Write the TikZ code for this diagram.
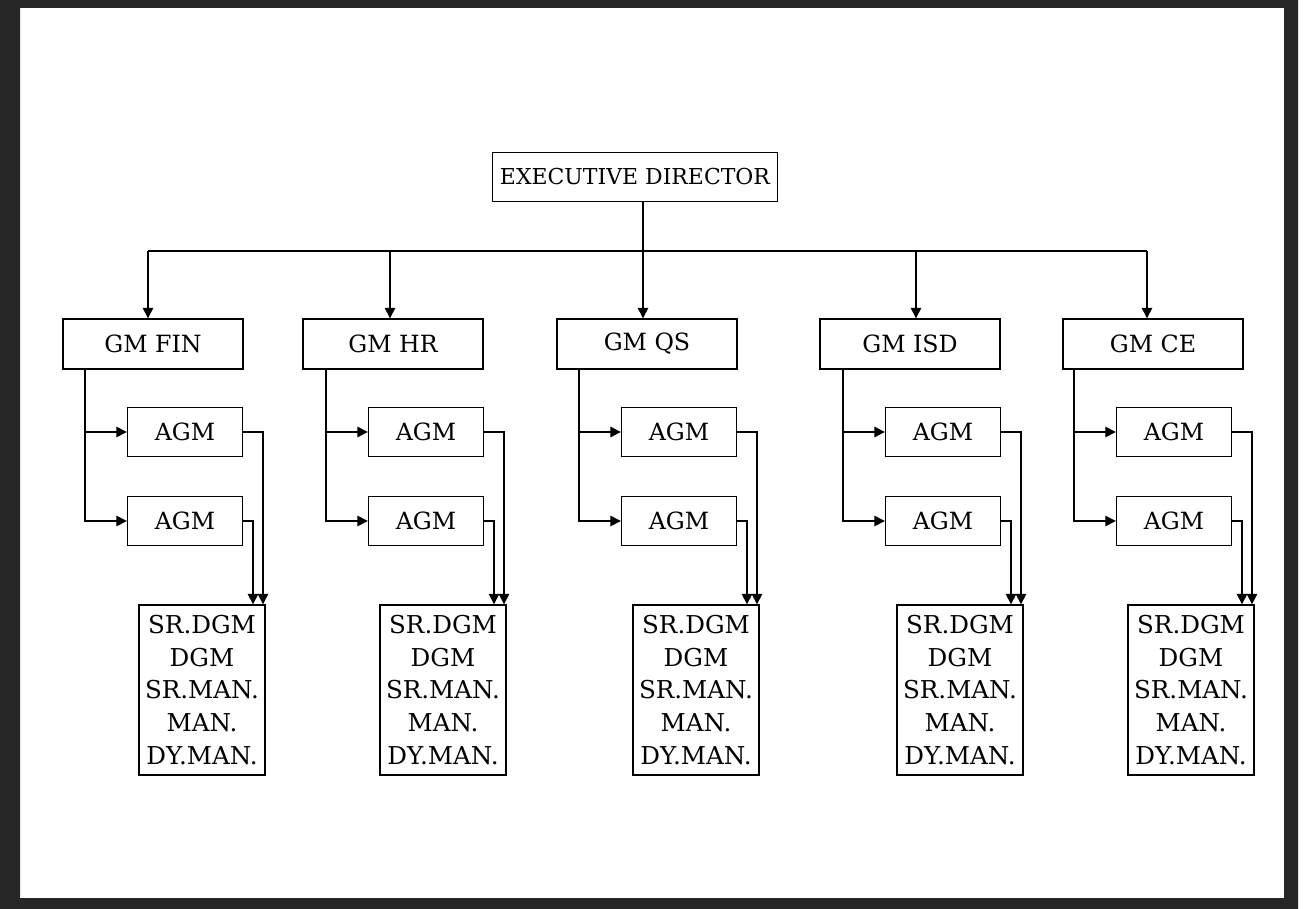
\documentclass[tikz,border=0pt]{standalone}
\usepackage{fontspec}
\setmainfont{DejaVu Serif}
\usetikzlibrary{arrows.meta,positioning,calc}

\begin{document}
\begin{tikzpicture}[x=0.02cm,y=-0.02cm,
    every node/.style={font=\fontsize{13.5}{18.7}\selectfont},
    box/.style={draw,line width=0.8pt,inner sep=2pt},
    link/.style={line width=0.8pt},
    arr/.style={link,-{Triangle[length=6pt,width=6pt]}}]
  % scanned border
  \fill[black!85,even odd rule] (0,0) rectangle (1298,909) (20,8) rectangle (1284,898);
  \useasboundingbox (0,0) rectangle (1305,909);
  \node[box,minimum width=5.7cm,minimum height=0.98cm,
        font=\fontsize{12.5}{14}\selectfont] (ed) at (635,177) {EXECUTIVE DIRECTOR};
  \foreach \n/\t/\gx/\ax/\v in {1/GM FIN/153/148/85, 2/GM HR/393/390/326,
      3/GM QS/647/643/579, 4/GM ISD/910/916/843, 5/GM CE/1153/1147/1074}{
    \node[box,minimum width=3.6cm,minimum height=1cm] (gm\n) at (\gx,344) {\t};
    \coordinate (b\n) at (\ax,251);
    \draw[arr] (b\n) -- (b\n |- gm\n.north);
    \node[box,minimum width=2.3cm,minimum height=0.98cm] (agma\n) at (\v+100,432) {AGM};
    \node[box,minimum width=2.3cm,minimum height=0.98cm] (agmb\n) at (\v+100,521) {AGM};
    \node[box,align=center,minimum width=2.52cm,minimum height=3.4cm,inner sep=1pt,
          font=\fontsize{14}{18.7}\selectfont]
      (sr\n) at (\v+117,690) {SR.DGM\\DGM\\SR.MAN.\\MAN.\\DY.MAN.};
    \coordinate (t\n) at (\v,0);
    \coordinate (ra\n) at (\v+178,0);
    \coordinate (rb\n) at (\v+168,0);
    \draw[arr] (gm\n.south -| t\n) |- (agma\n.west);
    \draw[arr] (gm\n.south -| t\n) |- (agmb\n.west);
    \draw[arr] (agma\n.east) -| (ra\n |- sr\n.north);
    \draw[arr] (agmb\n.east) -| (rb\n |- sr\n.north);
  }
  \draw[link] (b1) -- (b5);
  \draw[link] (ed.south -| b3) -- (b3);
\end{tikzpicture}
\end{document}
